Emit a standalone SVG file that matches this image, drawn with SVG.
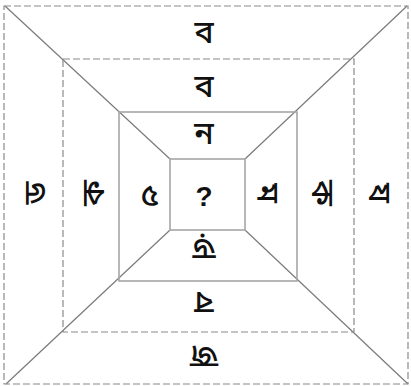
<svg xmlns="http://www.w3.org/2000/svg" width="411" height="386" viewBox="0 0 411 386">
<style>
.dash{fill:none;stroke:#8a8a8a;stroke-width:1.2;stroke-dasharray:7 3}
.solid{fill:none;stroke:#a6a6a6;stroke-width:1.6}
.diag{stroke:#7a7a7a;stroke-width:1.2}
.t{font-family:"Noto Sans","Noto Sans Bengali",sans-serif;font-size:32px;font-weight:500;fill:#111;text-anchor:middle;dominant-baseline:central}
.q{font-family:"Liberation Sans",sans-serif;font-size:28px;font-weight:700;fill:#111;text-anchor:middle;dominant-baseline:central}
</style>
<rect width="411" height="386" fill="#fff"/>
<g id="connectors">
<line class="diag" x1="5" y1="6" x2="170" y2="159"/>
<line class="diag" x1="407" y1="6" x2="245" y2="159"/>
<line class="diag" x1="6" y1="384" x2="170" y2="230"/>
<line class="diag" x1="408" y1="384" x2="245" y2="230"/>
</g>
<g id="outer"><rect class="dash" x="4" y="6" width="404" height="378"/></g>
<g id="middle"><rect class="dash" x="63" y="59" width="291" height="273"/></g>
<g id="inner"><rect class="solid" x="119" y="112" width="178" height="169"/></g>
<g id="center"><rect class="solid" x="170" y="159" width="75" height="71" fill="#fff"/><text class="q" x="204" y="196">?</text></g>
<g id="labels">
<text class="t" x="204" y="30">ব</text>
<text class="t" x="204" y="84">ব</text>
<text class="t" x="204" y="131">ন</text>
<text class="t" transform="translate(33,193) rotate(-90)">ড</text>
<text class="t" transform="translate(91,193) rotate(-90)">ক</text>
<text class="t" x="150" y="193">৫</text>
<text class="t" transform="translate(269,193) rotate(90)">ম</text>
<text class="t" transform="translate(324,193) rotate(90)">ক</text>
<text class="t" transform="translate(381,193) rotate(90)">য</text>
<text class="t" transform="translate(204,250) rotate(180)">ড়</text>
<text class="t" transform="translate(204,304) rotate(180)">ব</text>
<text class="t" transform="translate(204,358) rotate(180)">জ</text>
</g>
</svg>
